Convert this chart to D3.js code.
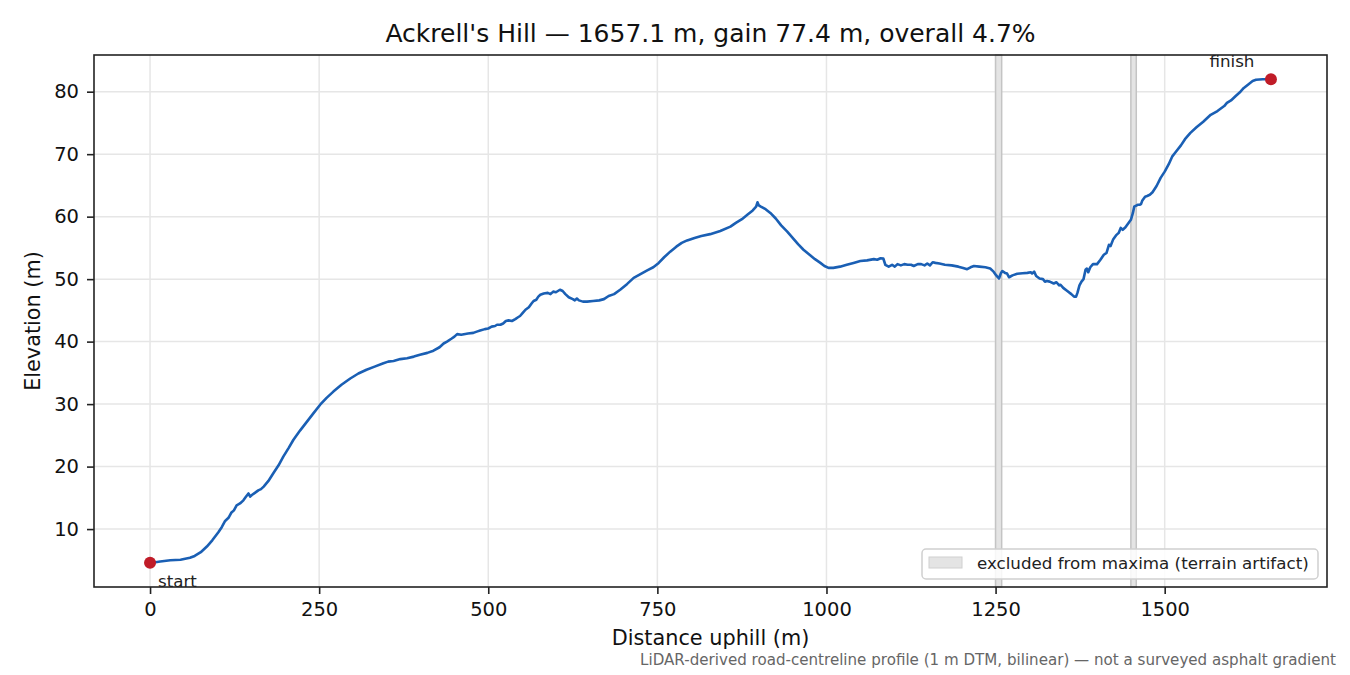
<!DOCTYPE html>
<html>
<head>
<meta charset="utf-8">
<script src="https://cdn.jsdelivr.net/npm/d3@7"></script>
<style>
  html, body { margin: 0; padding: 0; background: #fff; }
  svg text { font-family: "DejaVu Sans", sans-serif; }
</style>
</head>
<body>
<div id="chart"></div>
<script>
// distance along the road (m) and elevation (m)
var distance = [0, 8, 15, 30, 45, 59, 66, 75, 84, 92, 101, 106, 111, 116, 120, 124, 128, 133, 138, 142,
  145.5, 148, 150.5, 155, 160, 164, 168, 175, 182, 190, 197, 205, 212, 222, 232, 242, 251.5, 261, 271, 283,
  296, 308, 320, 332, 345, 352, 360, 370, 380, 390, 399, 410, 419, 428, 434, 439, 446, 450, 454, 460,
  470, 478, 483, 488, 495, 500, 505, 510, 513, 518, 522, 526, 530, 535, 540, 544, 547, 551, 555, 560,
  564, 567, 571, 574, 577, 582, 588, 592, 596, 600, 606, 610, 614, 619, 625, 628, 631, 634, 640, 646,
  655, 664, 671, 678, 686, 695, 705, 715, 725, 735, 744, 752, 760, 769, 778, 786, 794, 805, 815, 828,
  843, 858, 866, 875, 883, 891, 896, 898, 900, 903, 910, 917, 925, 933, 942, 950, 958, 966, 975, 983,
  991, 997, 1003, 1010, 1020, 1030, 1040, 1050, 1060, 1070, 1075, 1080, 1084, 1087, 1092, 1097, 1101, 1105, 1110, 1115,
  1120, 1125, 1129, 1135, 1140, 1145, 1149, 1153, 1157, 1161, 1167, 1175, 1185, 1195, 1202, 1208, 1213, 1218, 1226, 1235,
  1242, 1247, 1251, 1255, 1258, 1260, 1264, 1267, 1270, 1275, 1282, 1290, 1297, 1302, 1304, 1307, 1310, 1315, 1320, 1323,
  1326, 1330, 1336, 1340, 1344, 1346, 1350, 1356, 1362, 1366, 1369, 1371, 1374, 1377, 1380, 1383, 1385, 1387, 1390, 1394,
  1400, 1405, 1410, 1414, 1417.6, 1420, 1424, 1428, 1432, 1435, 1438, 1442, 1446, 1450, 1453, 1455, 1460, 1463, 1465, 1467,
  1471, 1474, 1478, 1482, 1488, 1494, 1500, 1506, 1511, 1516, 1524, 1530, 1538, 1547, 1557, 1568, 1578, 1588, 1592, 1598,
  1605, 1612, 1617, 1624, 1630, 1635, 1645, 1657.1];
var elevation = [4.6, 4.7, 4.8, 5.0, 5.1, 5.4, 5.7, 6.3, 7.2, 8.2, 9.5, 10.3, 11.3, 11.8, 12.6, 13.0, 13.8, 14.1, 14.6, 15.2,
  15.7, 15.2, 15.45, 15.8, 16.2, 16.4, 16.8, 17.7, 18.9, 20.2, 21.6, 23.0, 24.3, 25.8, 27.2, 28.6, 29.9, 31.0, 32.0, 33.1,
  34.1, 34.9, 35.5, 36.0, 36.55, 36.8, 36.9, 37.2, 37.35, 37.6, 37.9, 38.2, 38.55, 39.1, 39.7, 40.0, 40.5, 40.8, 41.2, 41.1,
  41.3, 41.4, 41.6, 41.77, 42.0, 42.1, 42.4, 42.5, 42.7, 42.7, 42.9, 43.3, 43.4, 43.3, 43.6, 43.9, 44.1, 44.6, 45.1, 45.5,
  46.1, 46.5, 46.7, 47.2, 47.5, 47.7, 47.8, 47.6, 48.0, 47.9, 48.3, 48.1, 47.6, 47.1, 46.8, 46.6, 46.9, 46.6, 46.4, 46.4,
  46.5, 46.6, 46.8, 47.3, 47.6, 48.3, 49.2, 50.2, 50.8, 51.4, 51.9, 52.6, 53.5, 54.4, 55.2, 55.8, 56.2, 56.6, 56.9, 57.2,
  57.7, 58.4, 59.0, 59.6, 60.3, 61.0, 61.6, 62.3, 61.8, 61.6, 61.2, 60.6, 59.7, 58.6, 57.6, 56.6, 55.6, 54.7, 53.9, 53.2,
  52.6, 52.1, 51.8, 51.8, 52.0, 52.3, 52.6, 52.9, 53.0, 53.2, 53.1, 53.35, 53.3, 52.3, 52.0, 52.3, 52.0, 52.4, 52.2, 52.4,
  52.3, 52.3, 52.1, 52.4, 52.4, 52.2, 52.5, 52.2, 52.7, 52.6, 52.5, 52.3, 52.2, 52.0, 51.8, 51.6, 51.9, 52.1, 52.0, 51.9,
  51.7, 51.2, 50.6, 50.1, 51.0, 51.3, 51.0, 50.9, 50.3, 50.6, 50.85, 50.95, 51.0, 51.1, 50.9, 51.2, 50.5, 50.1, 50.0, 49.6,
  49.7, 49.6, 49.3, 49.5, 49.0, 49.1, 48.6, 48.1, 47.6, 47.2, 47.2, 47.8, 49.0, 49.6, 50.0, 51.5, 51.7, 51.1, 51.9, 52.4,
  52.4, 53.1, 53.9, 54.2, 55.5, 55.3, 56.4, 57.0, 57.4, 58.2, 57.9, 58.3, 58.9, 59.5, 60.6, 61.6, 61.9, 61.9, 62.0, 62.6,
  63.2, 63.3, 63.5, 63.9, 64.9, 66.2, 67.2, 68.4, 69.6, 70.3, 71.4, 72.4, 73.4, 74.3, 75.2, 76.3, 76.9, 77.7, 78.2, 78.6,
  79.3, 80.0, 80.6, 81.2, 81.7, 81.9, 82.0, 82.0];

// stretches left out of the maxima search
var bandStart = [1250, 1450];
var bandEnd = [1259, 1458];

var xTicks = [0, 250, 500, 750, 1000, 1250, 1500];
var yTicks = [10, 20, 30, 40, 50, 60, 70, 80];

var titleText = "Ackrell's Hill \u2014 1657.1 m, gain 77.4 m, overall 4.7%";
var xLabel = "Distance uphill (m)";
var yLabel = "Elevation (m)";
var legendLabel = "excluded from maxima (terrain artifact)";
var footText = "LiDAR-derived road-centreline profile (1 m DTM, bilinear) \u2014 not a surveyed asphalt gradient";

var W = 1350, H = 675;
var margin = { top: 55, right: 23, bottom: 88, left: 94 };
var width = W - margin.left - margin.right,
    height = H - margin.top - margin.bottom;

var points = distance.map((d, i) => ({ d: d, e: elevation[i] }));
var ends = [points[0], points[points.length - 1]];

// matplotlib style 5% padding
var dMin = d3.min(distance), dMax = d3.max(distance);
var eMin = d3.min(elevation), eMax = d3.max(elevation);
var dPad = (dMax - dMin) * 0.05, ePad = (eMax - eMin) * 0.05;

var x = d3.scaleLinear().domain([dMin - dPad, dMax + dPad]).range([0, width]);
var y = d3.scaleLinear().domain([eMin - ePad, eMax + ePad]).range([height, 0]);

var svg = d3.select('#chart').append('svg').attr('width', W).attr('height', H);
var g = svg.append('g').attr('transform', `translate(${margin.left},${margin.top})`);

//grid
g.append('g').selectAll('line').data(xTicks).enter().append('line')
  .attr('x1', d => x(d)).attr('x2', d => x(d)).attr('y1', 0).attr('y2', height)
  .attr('stroke', '#e6e6e6').attr('stroke-width', 1.5);
g.append('g').selectAll('line').data(yTicks).enter().append('line')
  .attr('y1', d => y(d)).attr('y2', d => y(d)).attr('x1', 0).attr('x2', width)
  .attr('stroke', '#e6e6e6').attr('stroke-width', 1.5);

//excluded bands
g.append('g').selectAll('rect').data(bandStart).enter().append('rect')
  .attr('x', d => x(d))
  .attr('width', (d, i) => x(bandEnd[i]) - x(d))
  .attr('y', 0).attr('height', height)
  .attr('fill', '#e4e4e4')
  .attr('stroke', '#c4c4c4').attr('stroke-width', 1.5);

//profile line
var line = d3.line().x(p => x(p.d)).y(p => y(p.e));
g.append('path').datum(points)
  .attr('d', line)
  .attr('fill', 'none')
  .attr('stroke', '#1a5fb4')
  .attr('stroke-width', 2.6)
  .attr('stroke-linejoin', 'round');

//start / finish
g.selectAll('circle.end').data(ends).enter().append('circle')
  .attr('class', 'end')
  .attr('cx', p => x(p.d)).attr('cy', p => y(p.e)).attr('r', 6)
  .attr('fill', '#c01c28');
g.append('text').text('start')
  .attr('x', x(ends[0].d) + 8).attr('y', y(ends[0].e) + 24)
  .attr('font-size', 16.7).attr('fill', '#222');
g.append('text').text('finish')
  .attr('x', x(ends[1].d) - 39).attr('y', y(ends[1].e) - 12)
  .attr('text-anchor', 'middle')
  .attr('font-size', 16.7).attr('fill', '#222');

//axes
var xAxis = g.append('g').attr('transform', `translate(0,${height})`)
  .call(d3.axisBottom(x).tickValues(xTicks).tickFormat(d3.format('d')).tickSize(7).tickPadding(8));
var yAxis = g.append('g')
  .call(d3.axisLeft(y).tickValues(yTicks).tickFormat(d3.format('d')).tickSize(7).tickPadding(8));
[xAxis, yAxis].forEach(a => {
  a.select('.domain').remove();
  a.selectAll('line').attr('stroke', '#222').attr('stroke-width', 1.6);
  a.selectAll('text').attr('font-size', 19.5).attr('fill', '#111')
    .attr('font-family', '"DejaVu Sans", sans-serif');
});

//frame
g.append('rect').attr('width', width).attr('height', height)
  .attr('fill', 'none').attr('stroke', '#222').attr('stroke-width', 1.6);

//legend
var lg = g.append('g').attr('transform', `translate(${width - 405},${height - 38})`);
lg.append('rect').attr('width', 396).attr('height', 30).attr('rx', 4)
  .attr('fill', '#fff').attr('fill-opacity', 0.85)
  .attr('stroke', '#d0d0d0').attr('stroke-width', 1.5);
lg.append('rect').attr('x', 7).attr('y', 8).attr('width', 33).attr('height', 11)
  .attr('fill', '#e4e4e4').attr('stroke', '#d0d0d0').attr('stroke-width', 1);
lg.append('text').text(legendLabel).attr('x', 55).attr('y', 20)
  .attr('font-size', 16.7).attr('fill', '#222');

//titles
svg.append('text').text(titleText)
  .attr('x', margin.left + width / 2).attr('y', 41.5)
  .attr('text-anchor', 'middle').attr('font-size', 25).attr('fill', '#111');
svg.append('text').text(xLabel)
  .attr('x', margin.left + width / 2).attr('y', 645)
  .attr('text-anchor', 'middle').attr('font-size', 20.8).attr('fill', '#111');
svg.append('text').text(yLabel)
  .attr('transform', `translate(40,${margin.top + height / 2}) rotate(-90)`)
  .attr('text-anchor', 'middle').attr('font-size', 20.8).attr('fill', '#111');
svg.append('text').text(footText)
  .attr('x', 1336).attr('y', 665)
  .attr('text-anchor', 'end').attr('font-size', 15.1).attr('fill', '#666');
</script>
</body>
</html>
